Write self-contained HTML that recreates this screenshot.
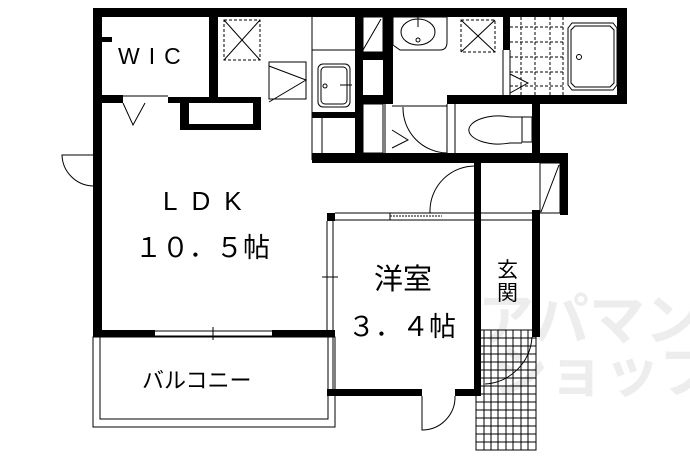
<!DOCTYPE html>
<html><head><meta charset="utf-8"><style>
html,body{margin:0;padding:0;background:#fff;}
svg{display:block;}
text{font-family:"Liberation Sans","Noto Sans CJK JP",sans-serif;fill:#000;}
</style></head><body>
<svg width="690" height="460" viewBox="0 0 690 460" xmlns="http://www.w3.org/2000/svg">
<!-- watermark -->
<text x="478" y="340" font-size="56" style="fill:#ededed;font-weight:bold">アパマン</text>
<text x="492" y="392" font-size="56" style="fill:#ededed;font-weight:bold">ショップ</text>

<g fill="#000">
<rect x="93" y="8" width="534" height="9"/>
<rect x="93" y="8" width="9" height="329"/>
<rect x="93" y="8" width="18" height="8"/>
<rect x="102" y="17" width="6" height="20" fill="#fff"/>
<rect x="102" y="37" width="10" height="5"/>
<rect x="209" y="8" width="9" height="95"/>
<rect x="93" y="95" width="30" height="8"/>
<rect x="168" y="97" width="93" height="6"/>
<rect x="180" y="97" width="81" height="33"/>
<rect x="189" y="103" width="64" height="21" fill="#fff"/>
<rect x="355" y="17" width="8" height="138"/>
<rect x="312" y="112" width="46" height="6"/>
<rect x="312" y="153" width="256" height="10"/>
<rect x="383" y="17" width="10" height="87"/>
<rect x="363" y="52" width="29" height="8"/>
<rect x="355" y="95" width="38" height="9"/>
<rect x="617" y="8" width="10" height="96"/>
<rect x="447" y="95" width="180" height="9"/>
<rect x="503" y="17" width="7" height="33"/>
<rect x="532" y="100" width="8" height="60"/>
<rect x="560" y="153" width="8" height="62"/>
<rect x="327" y="213" width="8" height="8"/>
<rect x="474" y="163" width="7" height="233"/>
<rect x="327" y="389" width="95" height="7"/>
<rect x="455" y="389" width="26" height="7"/>
<rect x="532" y="210" width="8" height="127"/>
<rect x="93" y="330" width="62" height="7"/>
<rect x="272" y="330" width="63" height="7"/>
</g>

<g fill="none" stroke="#000" stroke-width="1">
<line x1="123" y1="96" x2="168" y2="96"/>
<polyline points="123,103 133,125 145,103"/>
<rect x="224" y="20" width="36" height="40" stroke-dasharray="3,2"/>
<line x1="224" y1="20" x2="260" y2="60"/><line x1="260" y1="20" x2="224" y2="60"/>
<rect x="269" y="62" width="37" height="37"/>
<polyline points="269,66 306,80 269,102"/>
<line x1="312" y1="17" x2="312" y2="160"/>
<line x1="312" y1="50" x2="355" y2="50"/>
<rect x="318" y="64" width="32" height="43" rx="5"/>
<rect x="321" y="67" width="26" height="37" rx="4"/>
<circle cx="325" cy="86" r="2"/>
<line x1="340" y1="85" x2="352" y2="85"/>
<line x1="322" y1="118" x2="322" y2="155"/>
<rect x="363" y="17" width="20" height="35"/>
<line x1="363" y1="50" x2="381" y2="19"/>
<rect x="363" y="104" width="20" height="49"/>
<line x1="385" y1="104" x2="385" y2="155"/>
<path d="M393,17 H447 V42 Q447,50 440,50 H400 L393,45 Z"/>
<ellipse cx="418" cy="32" rx="17" ry="13"/>
<circle cx="418" cy="40" r="2"/>
<line x1="418" y1="17" x2="418" y2="27"/>
<rect x="461" y="20" width="34" height="32" stroke-dasharray="3,2"/>
<line x1="461" y1="20" x2="495" y2="52"/><line x1="495" y1="20" x2="461" y2="52"/>
<line x1="503" y1="50" x2="503" y2="95"/>
<line x1="510" y1="50" x2="510" y2="95"/>
<line x1="392" y1="106" x2="447" y2="106"/>
<path d="M403,107 A45,45 0 0 0 447,153"/>
<polyline points="392,130 408,140 392,148"/>
<line x1="447" y1="104" x2="447" y2="153"/>
<line x1="455" y1="104" x2="455" y2="153"/>
<g stroke-dasharray="3,2">
<line x1="521" y1="17" x2="521" y2="95"/><line x1="535" y1="17" x2="535" y2="95"/><line x1="550" y1="17" x2="550" y2="95"/><line x1="563" y1="17" x2="563" y2="95"/>
<line x1="510" y1="27" x2="563" y2="27"/><line x1="510" y1="42" x2="563" y2="42"/><line x1="510" y1="57" x2="563" y2="57"/><line x1="510" y1="72" x2="563" y2="72"/><line x1="510" y1="86" x2="563" y2="86"/>
</g>
<polyline points="510,74 528,83 510,93"/>
<path d="M572,23 H613 L617,28 V85 L613,90 H572 L568,85 V28 Z"/>
<path d="M575,26 H610 L614,30 V83 L610,87 H575 L571,83 V30 Z"/>
<circle cx="579" cy="57" r="2.5"/>
<path d="M522,117 H510 A30,14 0 1 0 510,143 H522"/>
<rect x="522" y="117" width="10" height="25"/>
<line x1="475" y1="163" x2="475" y2="213"/>
<line x1="480" y1="163" x2="480" y2="213"/>
<path d="M475,166 A45,45 0 0 0 430,210 V213 H475"/>
<rect x="540" y="163" width="20" height="50"/>
<line x1="541" y1="212" x2="559" y2="165"/>
<line x1="480" y1="213" x2="560" y2="213"/>
<line x1="480" y1="220" x2="532" y2="220"/>
<line x1="335" y1="213" x2="474" y2="213"/>
<line x1="335" y1="220" x2="474" y2="220"/>
<line x1="390" y1="216" x2="442" y2="216" stroke-dasharray="2,1"/>
<line x1="390" y1="213" x2="390" y2="220"/>
<line x1="327" y1="221" x2="327" y2="330"/>
<line x1="333" y1="221" x2="333" y2="389"/>
<line x1="322" y1="277" x2="338" y2="277"/>
<line x1="155" y1="331" x2="272" y2="331"/>
<line x1="155" y1="336" x2="272" y2="336"/>
<line x1="213" y1="327" x2="213" y2="340"/>
<rect x="93" y="337" width="242" height="90"/>
<rect x="100" y="337" width="228" height="82"/>
<path d="M422,396 V430 A33,33 0 0 0 455,396"/>
<path d="M93,155 H62 A32,32 0 0 0 93,186"/>
<path d="M532,337 A50,50 0 0 1 485,384"/>
<rect x="476" y="330" width="60" height="120"/>
<g>
<line x1="484" y1="330" x2="484" y2="450"/><line x1="491" y1="330" x2="491" y2="450"/><line x1="498" y1="330" x2="498" y2="450"/><line x1="506" y1="330" x2="506" y2="450"/><line x1="513" y1="330" x2="513" y2="450"/><line x1="521" y1="330" x2="521" y2="450"/><line x1="528" y1="330" x2="528" y2="450"/>
<line x1="476" y1="338" x2="536" y2="338"/><line x1="476" y1="346" x2="536" y2="346"/><line x1="476" y1="354" x2="536" y2="354"/><line x1="476" y1="362" x2="536" y2="362"/><line x1="476" y1="370" x2="536" y2="370"/><line x1="476" y1="378" x2="536" y2="378"/><line x1="476" y1="386" x2="536" y2="386"/><line x1="476" y1="394" x2="536" y2="394"/><line x1="476" y1="402" x2="536" y2="402"/><line x1="476" y1="410" x2="536" y2="410"/><line x1="476" y1="418" x2="536" y2="418"/><line x1="476" y1="426" x2="536" y2="426"/><line x1="476" y1="434" x2="536" y2="434"/><line x1="476" y1="442" x2="536" y2="442"/>
</g>
</g>

<text x="118" y="64" font-size="23" letter-spacing="9">WIC</text>
<text x="163" y="210" font-size="26" letter-spacing="14">LDK</text>
<text x="135" y="257" font-size="27">１０．５帖</text>
<text x="374" y="289" font-size="29">洋室</text>
<text x="348" y="336" font-size="27">３．４帖</text>
<text x="497" y="277" font-size="21">玄</text>
<text x="497" y="300" font-size="21">関</text>
<text x="142" y="388" font-size="22">バルコニー</text>
</svg>
</body></html>
